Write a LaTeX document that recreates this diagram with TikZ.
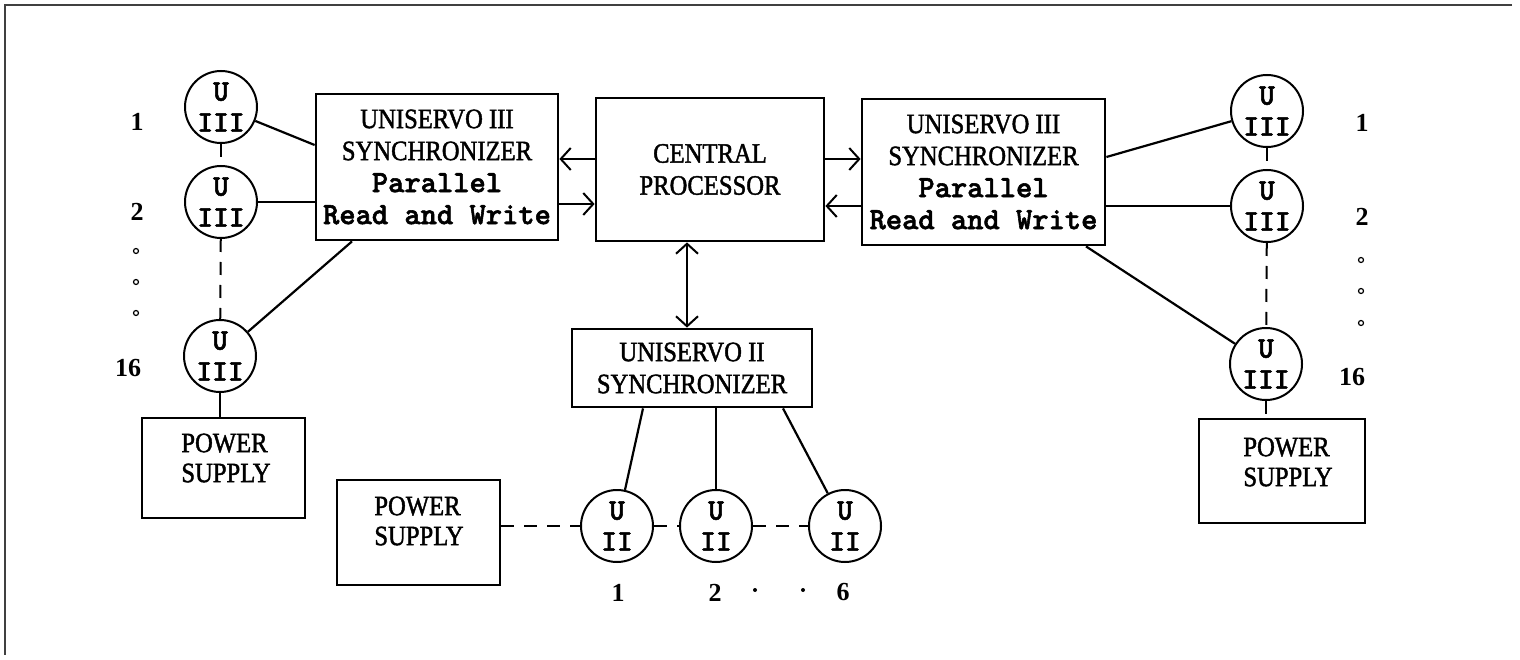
\documentclass[tikz,border=0pt]{standalone}
\usepackage{fontspec}
\setmainfont{Liberation Serif}
\newfontfamily\condfont[FakeStretch=0.88,FakeBold=1.5]{Liberation Serif}
\newfontfamily\twfont[FakeBold=1.8]{lmmonolt10-bold.otf}
\newcommand{\tw}{\twfont\fontsize{31}{32}\selectfont}
\usetikzlibrary{arrows.meta,calc}
\begin{document}
\begin{tikzpicture}[x=1pt,y=-1pt,
  box/.style={draw, line width=2.8pt, inner sep=2pt, align=center,
    font=\condfont\fontsize{28}{32}\selectfont},
  pstext/.style={inner sep=0pt, align=left, font=\condfont\fontsize{28}{30}\selectfont},
  tape/.style={draw, circle, line width=2pt, minimum size=72pt, inner sep=0pt,
    align=center, font=\twfont\fontsize{30}{31}\selectfont},
  num/.style={inner sep=0pt, font=\bfseries\fontsize{26}{26}\selectfont},
  hdot/.style={draw, circle, line width=1.2pt, minimum size=5pt, inner sep=0pt},
  fdot/.style={fill, circle, minimum size=4pt, inner sep=0pt},
  link/.style={line width=2.2pt},
  dlink/.style={line width=2pt, dash pattern=on 13pt off 10pt},
  barb/.tip={Straight Barb[length=10pt,width=22pt,line width=2pt]},
  arr/.style={line width=2pt, -barb},
  darr/.style={line width=2pt, barb-barb},
  frame/.style={line width=1.2pt, gray!50!black}]
\useasboundingbox[fill=white] (0,0) rectangle (1520,660);
\draw[frame] (1512,5) -- (5,5) -- (5,655);

% boxes
\node[box, minimum width=242pt, minimum height=146pt] (ls) at (437,167)
  {UNISERVO III\\SYNCHRONIZER\\{\tw Parallel}\\{\tw Read and Write}};
\node[box, minimum width=228pt, minimum height=143pt] (cp) at (710,169.5)
  {CENTRAL\\PROCESSOR};
\node[box, minimum width=243pt, minimum height=146pt] (rs) at (983.5,172)
  {UNISERVO III\\SYNCHRONIZER\\{\tw Parallel}\\{\tw Read and Write}};
\node[box, minimum width=240pt, minimum height=78pt] (bs) at (692,368)
  {UNISERVO II\\SYNCHRONIZER};

\node[box, minimum width=163pt, minimum height=100pt] (ps1) at (223.5,468) {};
\node[pstext] (ps1t) at (226,458) {POWER\\SUPPLY};
\node[box, minimum width=163pt, minimum height=105pt] (ps2) at (418.5,532.5) {};
\node[pstext] (ps2t) at (419,521) {POWER\\SUPPLY};
\node[box, minimum width=166pt, minimum height=104pt] (ps3) at (1282,471) {};
\node[pstext] (ps3t) at (1288,462) {POWER\\SUPPLY};

% tape units
\node[tape] (u1) at (221,107) {U\\III};
\node[tape] (u2) at (221,202) {U\\III};
\node[tape] (u16) at (220,356) {U\\III};
\node[tape] (ru1) at (1267,111) {U\\III};
\node[tape] (ru2) at (1267,206) {U\\III};
\node[tape] (ru16) at (1266,364) {U\\III};
\node[tape] (bu1) at (617,526) {U\\II};
\node[tape] (bu2) at (716,526) {U\\II};
\node[tape] (bu6) at (845,526) {U\\II};

% numbers
\node[num] (n1) at (137,122) {1};
\node[num] (n2) at (137,212) {2};
\node[num] (n16) at (128,368) {16};
\node[hdot] (d1) at (136,251) {};
\node[hdot] (d2) at (136,282) {};
\node[hdot] (d3) at (136,313) {};
\node[num] (rn1) at (1362,123) {1};
\node[num] (rn2) at (1362,217) {2};
\node[num] (rn16) at (1352,377) {16};
\node[hdot] (rd1) at (1361,260) {};
\node[hdot] (rd2) at (1361,291) {};
\node[hdot] (rd3) at (1361,323) {};
\node[num] (bn1) at (618,593) {1};
\node[num] (bn2) at (715,593) {2};
\node[num] (bn6) at (843,592) {6};
\node[fdot] (bd1) at (755,590) {};
\node[fdot] (bd2) at (803,590) {};

% left connectors
\draw[link] (u1) -- ([yshift=22pt]ls.west);
\draw[link] (u2) -- (u2 -| ls.west);
\draw[link] (u16) -- ([xshift=-85pt]ls.south);
\draw[dlink] (u1) -- (u2);
\draw[dlink] (u2) -- (u16);
\draw[link] (u16) -- (u16 |- ps1.north);

% processor arrows
\draw[arr] ([yshift=10.5pt]cp.west) -- ([yshift=10.5pt]cp.west -| ls.east);
\draw[arr] ([yshift=-34.5pt]cp.west -| ls.east) -- ([yshift=-34.5pt]cp.west);
\draw[arr] ([yshift=10.5pt]cp.east) -- ([yshift=10.5pt]cp.east -| rs.west);
\draw[arr] ([yshift=-36.5pt]cp.east -| rs.west) -- ([yshift=-36.5pt]cp.east);
\draw[darr] ([xshift=-23pt]cp.south) -- ([xshift=-23pt]cp.south |- bs.north);

% right connectors
\draw[link] ([yshift=15pt]rs.east) -- (ru1);
\draw[link] (ru2 -| rs.east) -- (ru2);
\draw[link] ([xshift=102.5pt]rs.south) -- (ru16);
\draw[dlink] (ru1) -- (ru2);
\draw[dlink] (ru2) -- (ru16);
\draw[dlink] (ru16) -- (ru16 |- ps3.north);

% bottom connectors
\draw[link] ([xshift=-49pt]bs.south) -- (bu1);
\draw[link] (bu2 |- bs.south) -- (bu2);
\draw[link] ([xshift=91pt]bs.south) -- (bu6);
\draw[dlink] (ps2.east |- bu1) -- (bu1);
\draw[dlink] (bu1) -- (bu2);
\draw[dlink] (bu2) -- (bu6);
\end{tikzpicture}
\end{document}
